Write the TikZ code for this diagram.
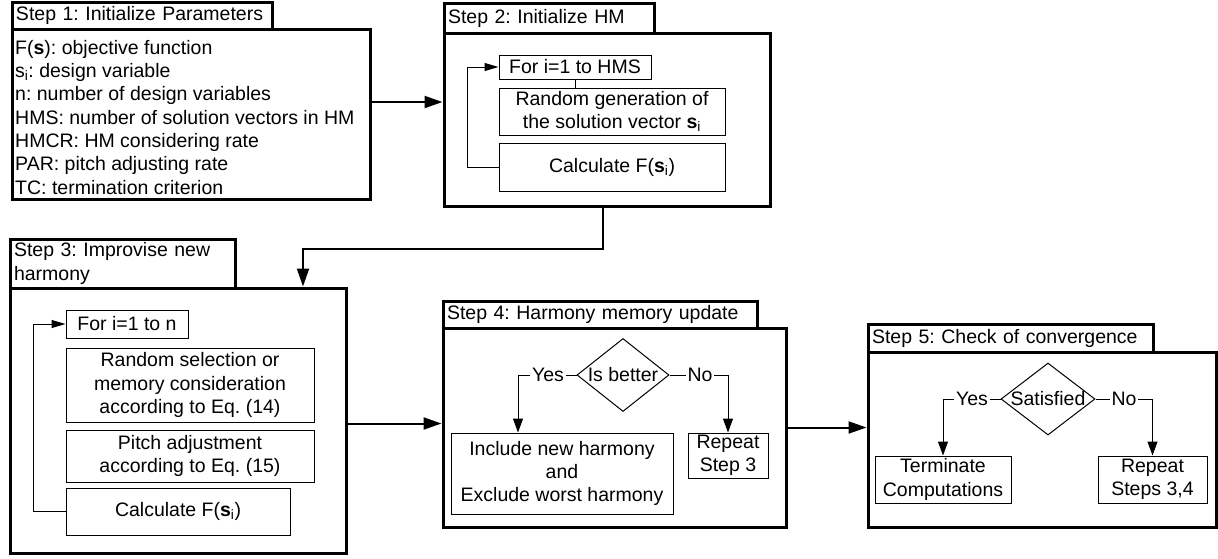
\documentclass[tikz,border=0pt]{standalone}
\usepackage{fontspec}
\setmainfont{Liberation Sans}
\usetikzlibrary{arrows.meta,shapes.geometric,calc}

% \placebox{style}{name}{x1}{y1}{x2}{y2}{text}: a node filling the given corners
\newcommand\placebox[7]{%
  \node[#1, minimum width={(#5)-(#3)}, minimum height={(#6)-(#4)}]
    (#2) at ({((#3)+(#5))/2},{((#4)+(#6))/2}) {#7};}

\begin{document}
\frenchspacing
\begin{tikzpicture}[x=1pt,y=-1pt,
  every node/.style={font=\fontsize{19.5}{23.3}\selectfont\frenchspacing},
  frame/.style={draw, line width=3pt, inner sep=0pt},
  tab/.style={draw, line width=3pt, inner xsep=4pt, inner ysep=0pt, align=left},
  cell/.style={draw, line width=1pt, align=center, inner sep=0pt},
  decision/.style={draw, line width=1pt, diamond, inner sep=0pt},
  flag/.style={inner sep=1.5pt},
  link/.style={line width=1pt},
  linkarr/.style={line width=1pt, -{Triangle[length=14pt,width=10pt]}},
  looparr/.style={line width=1pt, -{Triangle[length=14pt,width=8pt]}},
  flow/.style={line width=2pt, -{Triangle[length=18pt,width=12pt]}}]

\useasboundingbox[fill=white] (0,0) rectangle (1218,558);

% ---------- Step 1 ----------
\placebox{tab, text width=252pt}{tab1}{12}{2}{272}{29}{Step 1: Initialize Parameters}
\placebox{frame}{box1}{12}{29}{370}{199}{}
\node[anchor=north west, align=left, inner sep=0pt] (list1) at (15,40)
  {F(\textbf{s}): objective function\\
   s\textsubscript{i}: design variable\\
   n: number of design variables\\
   HMS: number of solution vectors in HM\\
   HMCR: HM considering rate\\
   PAR: pitch adjusting rate\\
   TC: termination criterion};

% ---------- Step 2 ----------
\placebox{tab, text width=202pt}{tab2}{444}{3}{654}{33}{Step 2: Initialize HM}
\placebox{frame}{box2}{444}{33}{770}{206}{}
\placebox{cell}{for2}{499}{55}{651}{79}{For i=1 to HMS}
\placebox{cell}{rand2}{499}{88}{725}{135}{Random generation of\\the solution vector \textbf{s}\textsubscript{i}}
\placebox{cell}{calc2}{499}{143}{725}{191}{Calculate F(\textbf{s}\textsubscript{i})}
\draw[link] (for2.south) -- (for2.south |- rand2.north);
\draw[looparr] (calc2.west) -- ++(-31,0) |- (for2.west);

% ---------- Step 3 ----------
\placebox{tab, text width=217pt}{tab3}{10}{239}{235}{288}{Step 3: Improvise new\\harmony}
\placebox{frame}{box3}{10}{288}{346}{553}{}
\placebox{cell}{for3}{66}{310}{188}{338}{For i=1 to n}
\placebox{cell}{rand3}{66}{348}{314}{422}{Random selection or\\memory consideration\\according to Eq. (14)}
\placebox{cell}{pitch3}{66}{430}{314}{482}{Pitch adjustment\\according to Eq. (15)}
\placebox{cell}{calc3}{66}{488}{290}{535}{Calculate F(\textbf{s}\textsubscript{i})}
\draw[looparr] (calc3.west) -- ++(-32,0) |- (for3.west);

% ---------- Step 4 ----------
\placebox{tab, text width=306pt}{tab4}{443}{301}{757}{328}{Step 4: Harmony memory update}
\placebox{frame}{box4}{443}{328}{786}{527}{}
\node[decision, minimum width=92pt, minimum height=73pt] (dia4) at (623,375) {};
\node[inner sep=0pt] (dia4t) at (dia4.center) {Is better};
\node[flag] (yes4) at (548,375) {Yes};
\node[flag] (no4) at (700,375) {No};
\placebox{cell}{inc4}{451}{433}{673}{514}{Include new harmony\\and\\Exclude worst harmony}
\placebox{cell}{rep4}{688}{433}{768}{478}{Repeat\\Step 3}
\draw[link] (dia4.west) -- (yes4.east);
\draw[linkarr] (yes4.west) -| ([xshift=-44pt]inc4.north);
\draw[link] (dia4.east) -- (no4.west);
\draw[linkarr] (no4.east) -| (rep4.north);

% ---------- Step 5 ----------
\placebox{tab, text width=277pt}{tab5}{868}{324}{1153}{352}{Step 5: Check of convergence}
\placebox{frame}{box5}{868}{352}{1216}{527}{}
\node[decision, minimum width=94pt, minimum height=72pt] (dia5) at (1048,399) {};
\node[inner sep=0pt] (dia5t) at (dia5.center) {Satisfied};
\node[flag] (yes5) at (972,399) {Yes};
\node[flag] (no5) at (1124,399) {No};
\placebox{cell}{term5}{875}{456}{1011}{503}{Terminate\\Computations}
\placebox{cell}{rep5}{1098}{456}{1207}{503}{Repeat\\Steps 3,4}
\draw[link] (dia5.west) -- (yes5.east);
\draw[linkarr] (yes5.west) -| (term5.north);
\draw[link] (dia5.east) -- (no5.west);
\draw[linkarr] (no5.east) -| (rep5.north);

% ---------- flow between steps ----------
\coordinate (s12) at ([yshift=12pt]box1.east);
\draw[flow] (s12) -- (s12 -| box2.west);
\draw[flow] ([xshift=-4pt]box2.south) -- ++(0,41) -| ([xshift=125pt]box3.north);
\coordinate (s34) at ([yshift=-3pt]box3.east);
\draw[flow] (s34) -- (s34 -| box4.west);
\draw[flow] (box4.east) -- (box4.east -| box5.west);
\end{tikzpicture}
\end{document}
